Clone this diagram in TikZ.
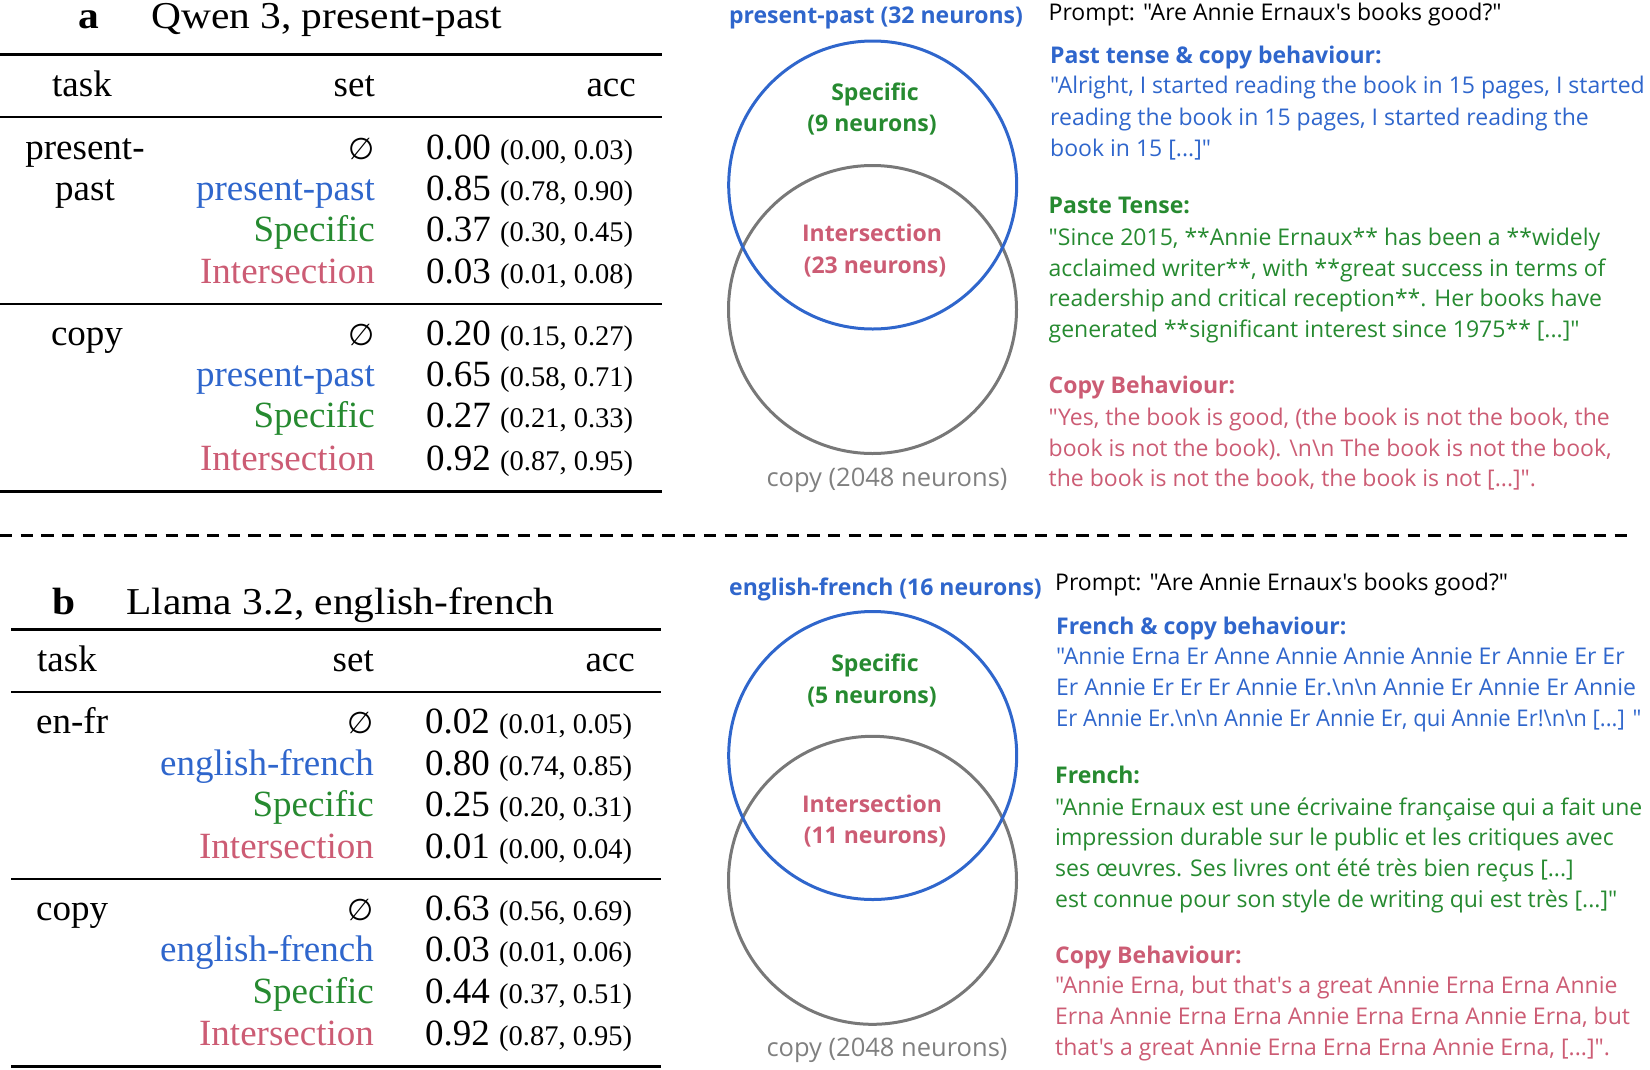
\documentclass[tikz,border=0pt]{standalone}
\usepackage{fontspec}
\setmainfont{Liberation Serif}
\setsansfont{Open Sans}[Ligatures=TeXOff]
\newfontfamily\dvsans{DejaVu Sans}
\definecolor{cblue}{RGB}{47,102,204}
\definecolor{cgreen}{RGB}{38,138,48}
\definecolor{cpink}{RGB}{204,92,116}
\definecolor{cgray}{RGB}{120,120,120}
\definecolor{cgrayt}{RGB}{128,128,128}
\newcommand\tfs{\fontsize{37}{40}\selectfont}
\newcommand\pfs{\fontsize{28.5}{30}\selectfont}
\newcommand\ci[1]{{\pfs(#1)}}
\newcommand\bsn{\textbackslash n\textbackslash n}
\newcommand\noset{{\dvsans\fontsize{30}{34}\selectfont ∅}}
\newcommand\wide[1]{\scalebox{1.09}[1]{#1}}
\tikzset{
  cell/.style={inner sep=0, font=\tfs},
  setc/.style={cell, anchor=base east},
  accc/.style={cell, anchor=base west},
  taskc/.style={cell, anchor=base},
  tasklc/.style={cell, anchor=base west},
  toprl/.style={line width=2.7pt},
  midrl/.style={line width=1.7pt},
  vtxt/.style={inner sep=0, anchor=base west, font=\sffamily\fontsize{23}{28}\selectfont},
  vhead/.style={vtxt, font=\sffamily\bfseries\fontsize{23}{28}\selectfont},
  vlab/.style={inner sep=0, anchor=base, font=\sffamily\bfseries\fontsize{23}{28}\selectfont},
  vcopy/.style={inner sep=0, anchor=base, text=cgrayt, font=\sffamily\fontsize{25.5}{28}\selectfont},
  vcirc/.style={circle, inner sep=0, minimum size=288pt, line width=3pt},
  ttl/.style={inner sep=0, font=\fontsize{38}{42}\selectfont},
  ttlb/.style={inner sep=0, font=\fontsize{38}{42}\selectfont\bfseries},
}
\begin{document}
\begin{tikzpicture}[x=1pt,y=-1pt]
\useasboundingbox (0,0) rectangle (1650,1069);

% ================= Panel a table =================
\node[ttlb, anchor=base] (alab) at (89,28.5) {\wide{a}};
\node[ttl, anchor=base west] (atitle) at (151,28.5) {\wide{Qwen 3, present-past}};
\coordinate (ar1l) at (0,54.5); \coordinate (ar1r) at (662,54.5);
\coordinate (ar2l) at (0,117.3); \coordinate (ar2r) at (662,117.3);
\coordinate (ar3l) at (0,304); \coordinate (ar3r) at (662,304);
\coordinate (ar4l) at (0,491.7); \coordinate (ar4r) at (662,491.7);
\draw[toprl] (ar1l) -- (ar1r);
\draw[midrl] (ar2l) -- (ar2r);
\draw[midrl] (ar3l) -- (ar3r);
\draw[toprl] (ar4l) -- (ar4r);

\node[taskc] (ahtask) at (82,96.7) {task};
\node[setc] (ahset) at (375,96.7) {set};
\node[cell, anchor=base east] (ahacc) at (636,96.7) {acc};

\node[taskc] (at1a) at (85,159.3) {present-};
\node[taskc] (at1b) at (85,200.7) {past};
\node[setc] (as1) at (375,159.3) {\noset};
\node[setc, text=cblue] (as2) at (375,200.7) {present-past};
\node[setc, text=cgreen] (as3) at (375,241.7) {Specific};
\node[setc, text=cpink] (as4) at (375,283.3) {Intersection};
\node[accc] (aa1) at (426,159.3) {0.00 \ci{0.00, 0.03}};
\node[accc] (aa2) at (426,200.7) {0.85 \ci{0.78, 0.90}};
\node[accc] (aa3) at (426,241.7) {0.37 \ci{0.30, 0.45}};
\node[accc] (aa4) at (426,283.3) {0.03 \ci{0.01, 0.08}};

\node[taskc] (at2) at (87,345.7) {copy};
\node[setc] (as5) at (375,345.7) {\noset};
\node[setc, text=cblue] (as6) at (375,386.7) {present-past};
\node[setc, text=cgreen] (as7) at (375,427.7) {Specific};
\node[setc, text=cpink] (as8) at (375,470) {Intersection};
\node[accc] (aa5) at (426,345.7) {0.20 \ci{0.15, 0.27}};
\node[accc] (aa6) at (426,386.7) {0.65 \ci{0.58, 0.71}};
\node[accc] (aa7) at (426,427.7) {0.27 \ci{0.21, 0.33}};
\node[accc] (aa8) at (426,470) {0.92 \ci{0.87, 0.95}};

% ================= Panel a Venn =================
\node[vcirc, draw=cgray] (acopy) at (872.5,309.5) {};
\node[vcirc, draw=cblue] (app) at (872.7,185) {};
\node[vlab, text=cblue] (avl1) at (876,23) {present-past (32 neurons)};
\node[vlab, text=cgreen] (avl2) at (875,100) {Specific};
\node[vlab, text=cgreen] (avl3) at (872,131.7) {(9 neurons)};
\node[vlab, text=cpink] (avl4) at (872,241.7) {Intersection};
\node[vlab, text=cpink] (avl5) at (875,273) {(23 neurons)};
\node[vcopy] (avl6) at (887,486.7) {copy (2048 neurons)};

% ================= Panel a text =================
\node[vtxt] (ap0) at (1048.5,20) {Prompt: "Are Annie Ernaux's books good?"};
\node[vhead, text=cblue] (ap1h) at (1050,63.3) {Past tense \& copy behaviour:};
\node[vtxt, text=cblue] (ap1a) at (1050,93.3) {"Alright, I started reading the book in 15 pages, I started};
\node[vtxt, text=cblue] (ap1b) at (1050,125) {reading the book in 15 pages, I started reading the};
\node[vtxt, text=cblue] (ap1c) at (1050,156) {book in 15 [...]"};
\node[vhead, text=cgreen] (ap2h) at (1048.5,213.3) {Paste Tense:};
\node[vtxt, text=cgreen] (ap2a) at (1048.5,245) {"Since 2015, **Annie Ernaux** has been a **widely};
\node[vtxt, text=cgreen] (ap2b) at (1048.5,276) {acclaimed writer**, with **great success in terms of};
\node[vtxt, text=cgreen] (ap2c) at (1048.5,306.7) {readership and critical reception**. Her books have};
\node[vtxt, text=cgreen] (ap2d) at (1048.5,337.3) {generated **significant interest since 1975** [...]"};
\node[vhead, text=cpink] (ap3h) at (1048.5,393.3) {Copy Behaviour:};
\node[vtxt, text=cpink] (ap3a) at (1048.5,425) {"Yes, the book is good, (the book is not the book, the};
\node[vtxt, text=cpink] (ap3b) at (1048.5,456) {book is not the book). \bsn{} The book is not the book,};
\node[vtxt, text=cpink] (ap3c) at (1048.5,486) {the book is not the book, the book is not [...]".};

% ================= Dashed separator =================
\coordinate (dl) at (0,535.8); \coordinate (dr) at (1632,535.8);
\draw[line width=3pt, dash pattern=on 12.3pt off 8.4pt] (dl) -- (dr);

% ================= Panel b table =================
\node[ttlb, anchor=base] (blab) at (64,614.5) {\wide{b}};
\node[ttl, anchor=base west] (btitle) at (126,614.5) {\wide{Llama 3.2, english-french}};
\coordinate (br1l) at (11,629.6); \coordinate (br1r) at (661,629.6);
\coordinate (br2l) at (11,692.3); \coordinate (br2r) at (661,692.3);
\coordinate (br3l) at (11,878.9); \coordinate (br3r) at (661,878.9);
\coordinate (br4l) at (11,1066.2); \coordinate (br4r) at (661,1066.2);
\draw[toprl] (br1l) -- (br1r);
\draw[midrl] (br2l) -- (br2r);
\draw[midrl] (br3l) -- (br3r);
\draw[toprl] (br4l) -- (br4r);

\node[tasklc] (bhtask) at (37,671.3) {task};
\node[setc] (bhset) at (374,671.3) {set};
\node[cell, anchor=base east] (bhacc) at (635,671.3) {acc};

\node[tasklc] (bt1) at (36,733.6) {en-fr};
\node[setc] (bs1) at (374,733.6) {\noset};
\node[setc, text=cblue] (bs2) at (374,775.6) {english-french};
\node[setc, text=cgreen] (bs3) at (374,816.9) {Specific};
\node[setc, text=cpink] (bs4) at (374,858.9) {Intersection};
\node[accc] (ba1) at (425,733.6) {0.02 \ci{0.01, 0.05}};
\node[accc] (ba2) at (425,775.6) {0.80 \ci{0.74, 0.85}};
\node[accc] (ba3) at (425,816.9) {0.25 \ci{0.20, 0.31}};
\node[accc] (ba4) at (425,858.9) {0.01 \ci{0.00, 0.04}};

\node[tasklc] (bt2) at (36,920.2) {copy};
\node[setc] (bs5) at (374,920.2) {\noset};
\node[setc, text=cblue] (bs6) at (374,961.9) {english-french};
\node[setc, text=cgreen] (bs7) at (374,1003.2) {Specific};
\node[setc, text=cpink] (bs8) at (374,1045.2) {Intersection};
\node[accc] (ba5) at (425,920.2) {0.63 \ci{0.56, 0.69}};
\node[accc] (ba6) at (425,961.9) {0.03 \ci{0.01, 0.06}};
\node[accc] (ba7) at (425,1003.2) {0.44 \ci{0.37, 0.51}};
\node[accc] (ba8) at (425,1045.2) {0.92 \ci{0.87, 0.95}};

% ================= Panel b Venn =================
\node[vcirc, draw=cgray] (bcopy) at (872.5,880.3) {};
\node[vcirc, draw=cblue] (bef) at (872.7,755.5) {};
\node[vlab, text=cblue] (bvl1) at (885.5,595.7) {english-french (16 neurons)};
\node[vlab, text=cgreen] (bvl2) at (875,671.6) {Specific};
\node[vlab, text=cgreen] (bvl3) at (872,703.6) {(5 neurons)};
\node[vlab, text=cpink] (bvl4) at (872,812.6) {Intersection};
\node[vlab, text=cpink] (bvl5) at (875,843.6) {(11 neurons)};
\node[vcopy] (bvl6) at (887,1056.2) {copy (2048 neurons)};

% ================= Panel b text =================
\node[vtxt] (bp0) at (1055,590.6) {Prompt: "Are Annie Ernaux's books good?"};
\node[vhead, text=cblue] (bp1h) at (1056,634.5) {French \& copy behaviour:};
\node[vtxt, text=cblue] (bp1a) at (1056,664.8) {"Annie Erna Er Anne Annie Annie Annie Er Annie Er Er};
\node[vtxt, text=cblue] (bp1b) at (1056,695.9) {Er Annie Er Er Er Annie Er.\bsn{} Annie Er Annie Er Annie};
\node[vtxt, text=cblue] (bp1c) at (1056,726.6) {\scalebox{0.96}[1]{Er Annie Er.\bsn{} Annie Er Annie Er, qui Annie Er!\bsn{} [...] "}};
\node[vhead, text=cgreen] (bp2h) at (1055,783.6) {French:};
\node[vtxt, text=cgreen] (bp2a) at (1055,815) {"Annie Ernaux est une écrivaine française qui a fait une};
\node[vtxt, text=cgreen] (bp2b) at (1055,845.3) {impression durable sur le public et les critiques avec};
\node[vtxt, text=cgreen] (bp2c) at (1055,876.4) {ses œuvres. Ses livres ont été très bien reçus [...]};
\node[vtxt, text=cgreen] (bp2d) at (1055,907.7) {est connue pour son style de writing qui est très [...]"};
\node[vhead, text=cpink] (bp3h) at (1055,963.4) {Copy Behaviour:};
\node[vtxt, text=cpink] (bp3a) at (1055,993.8) {"Annie Erna, but that's a great Annie Erna Erna Annie};
\node[vtxt, text=cpink] (bp3b) at (1055,1024.8) {Erna Annie Erna Erna Annie Erna Erna Annie Erna, but};
\node[vtxt, text=cpink] (bp3c) at (1055,1055.2) {that's a great Annie Erna Erna Erna Annie Erna, [...]".};
\end{tikzpicture}
\end{document}
